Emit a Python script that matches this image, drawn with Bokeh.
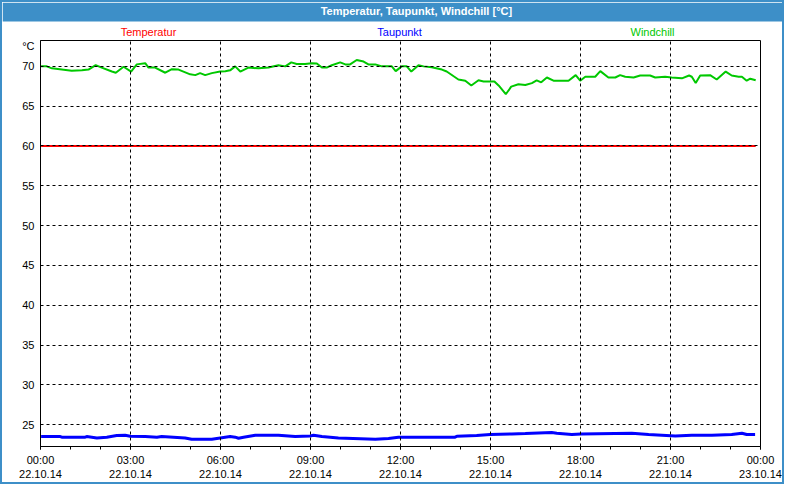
from bokeh.plotting import figure
from bokeh.layouts import column
from bokeh.models import FixedTicker, Range1d, Label, BoxAnnotation
from bokeh.embed import file_html
from bokeh.resources import INLINE

# ---- data (hours since 22.10.14 00:00) ----
tick_hours = [0, 3, 6, 9, 12, 15, 18, 21, 24]
tick_times = ["00:00", "03:00", "06:00", "09:00", "12:00", "15:00", "18:00", "21:00", "00:00"]
tick_dates = ["22.10.14", "22.10.14", "22.10.14", "22.10.14", "22.10.14",
              "22.10.14", "22.10.14", "22.10.14", "23.10.14"]
minor_hours = list(range(0, 25))
y_ticks = [25, 30, 35, 40, 45, 50, 55, 60, 65, 70]
unit_tick = 72.5
unit_text = "°C"

temp_t = [0.02, 6.0, 12.0, 18.0, 23.84]
temp_v = [60.0, 60.0, 60.0, 60.0, 60.0]

dew_t = [0.02, 0.66, 0.71, 1.49, 1.54, 1.88, 2.21, 2.54, 2.82, 2.99, 3.49, 3.88, 4.04, 4.82, 5.04,
         5.71, 5.99, 6.32, 6.49, 6.6, 6.77, 7.16, 7.93, 8.49, 8.99, 9.1, 9.38, 9.93, 11.16, 11.6,
         11.93, 13.82, 13.88, 14.54, 14.99, 15.71, 16.16, 17.04, 17.21, 17.71, 18.02, 19.71, 20.27,
         21.16, 21.71, 22.38, 23.04, 23.38, 23.54, 23.82]
dew_v = [23.5, 23.5, 23.42, 23.42, 23.5, 23.33, 23.42, 23.62, 23.67, 23.54, 23.5, 23.42, 23.5, 23.33, 23.17,
         23.17, 23.33, 23.5, 23.42, 23.29, 23.42, 23.67, 23.67, 23.5, 23.58, 23.67, 23.5, 23.33, 23.17, 23.25,
         23.42, 23.42, 23.54, 23.62, 23.75, 23.83, 23.87, 24.0, 23.92, 23.75, 23.83, 23.92, 23.75,
         23.58, 23.67, 23.67, 23.75, 23.92, 23.75, 23.75]

wc_t = [0.02, 0.21, 0.38, 0.71, 1.04, 1.38, 1.60, 1.84, 2.04, 2.38, 2.51, 2.77, 3.02, 3.21, 3.49,
        3.60, 3.82, 4.16, 4.38, 4.60, 4.99, 5.16, 5.32, 5.49, 5.71, 5.99, 6.16, 6.32, 6.49, 6.66,
        6.93, 7.27, 7.60, 7.93,
        8.16, 8.36, 8.54, 8.82, 9.04, 9.21, 9.38, 9.54, 9.71, 9.99, 10.16, 10.32, 10.54, 10.77,
        10.93, 11.16, 11.38, 11.71, 11.84, 12.04, 12.21, 12.36, 12.6, 12.77, 13.04, 13.38, 13.54,
        13.93, 14.16, 14.36, 14.6, 14.77, 14.93, 15.13, 15.27, 15.51, 15.69, 15.93,
        16.16, 16.38, 16.54, 16.69, 16.88, 17.1, 17.6, 17.84, 17.99, 18.16, 18.49, 18.66, 18.93,
        19.16, 19.32, 19.49, 19.77, 19.99, 20.32, 20.49, 20.82, 21.04, 21.38, 21.62, 21.71, 21.84,
        21.99, 22.32, 22.54, 22.84, 23.04, 23.27, 23.38, 23.54, 23.66, 23.84]
wc_v = [70.0, 70.0, 69.75, 69.6, 69.45, 69.5, 69.6, 70.15, 69.85, 69.35, 69.2, 69.95, 69.35, 70.25, 70.4,
        69.85, 69.85, 69.2, 69.65, 69.6, 69.0, 68.9, 69.15, 68.9, 69.15, 69.35, 69.4, 69.5, 70.0, 69.35,
        69.85, 69.75, 69.85, 70.15,
        70.0, 70.5, 70.3, 70.3, 70.4, 70.35, 69.85, 69.85, 70.15, 70.5, 70.25, 70.25, 70.8, 70.6,
        70.25, 70.25, 70.0, 70.0, 69.4, 70.0, 70.0, 69.35, 70.15, 70.0, 69.9, 69.6, 69.35,
        68.35, 68.2, 67.6, 68.25, 68.1, 68.1, 68.1, 67.6, 66.5, 67.45, 67.75,
        67.65, 67.9, 68.25, 68.0, 68.6, 68.2, 68.2, 68.9, 68.2, 68.7, 68.7, 69.4, 68.6,
        68.6, 68.9, 68.7, 68.6, 68.85, 68.85, 68.6, 68.7, 68.6, 68.5, 68.85, 68.7, 67.9,
        68.85, 68.9, 68.35, 69.35, 68.85, 68.7, 68.7, 68.2, 68.45, 68.25]

title_text = "Temperatur, Taupunkt, Windchill [°C]"
series_names = ["Temperatur", "Taupunkt", "Windchill"]
series_colors = ["#ff0000", "#0000ff", "#00c800"]
name_hours = [3.6, 11.97, 20.4]

FONT = "Liberation Sans"
BAR = "#3d8fc8"
IW = 780          # inner width (inside the 2px border)
TOP_H = 37
MAIN_H = 443
LEFT, RIGHT = 38, 22
PX_PER_H = 30.0
x_lo = -LEFT / PX_PER_H
x_hi = (IW - LEFT) / PX_PER_H

# ---------- header strip: title bar + series names ----------
hdr = figure(width=IW, height=TOP_H, output_backend="svg", toolbar_location=None, title=None,
             x_axis_type=None, y_axis_type=None,
             x_range=Range1d(x_lo, x_hi), y_range=Range1d(TOP_H, 0),
             min_border=0, min_border_left=0, min_border_right=0, min_border_top=0, min_border_bottom=0)
hdr.frame_align = False
hdr.outline_line_color = None
hdr.background_fill_color = "white"
hdr.border_fill_color = "white"
hdr.add_layout(BoxAnnotation(left=x_lo, right=x_hi, top=0, bottom=19,
                             fill_color=BAR, fill_alpha=1, line_color=None))
hdr.add_layout(Label(x=12.53, y=8.5, text=title_text, text_color="white",
                     text_font=FONT, text_font_size="11px", text_font_style="bold",
                     text_align="center", text_baseline="middle"))
for x, name, col in zip(name_hours, series_names, series_colors):
    hdr.add_layout(Label(x=x, y=29, text=name, text_color=col, text_font=FONT,
                         text_font_size="11px", text_align="center", text_baseline="middle"))

# ---------- main chart ----------
y_top = 73.25
frame_h = MAIN_H - 1 - 34
p = figure(width=IW, height=MAIN_H, output_backend="svg", toolbar_location=None, title=None,
           x_range=Range1d(0, 24), y_range=Range1d(y_top - frame_h / 8.0, y_top),
           min_border_left=LEFT, min_border_right=RIGHT, min_border_top=1, min_border_bottom=34)
p.frame_align = False
p.background_fill_color = "white"
p.border_fill_color = "white"
p.outline_line_color = "black"
p.outline_line_width = 1

p.xaxis.ticker = FixedTicker(ticks=tick_hours, minor_ticks=minor_hours)
p.xaxis.major_label_overrides = {h: f"{t}\n{d}" for h, t, d in zip(tick_hours, tick_times, tick_dates)}
p.yaxis.ticker = FixedTicker(ticks=y_ticks + [unit_tick])
p.yaxis.major_label_overrides = {unit_tick: unit_text}
for ax in (p.xaxis[0], p.yaxis[0]):
    ax.axis_line_color = "black"
    ax.major_label_text_font = FONT
    ax.major_label_text_font_size = "11px"
    ax.major_label_text_color = "black"
    ax.major_tick_line_color = "black"
    ax.minor_tick_line_color = "black"
p.xaxis.major_tick_in = 0
p.xaxis.major_tick_out = 3
p.xaxis.minor_tick_in = 0
p.xaxis.minor_tick_out = 3
p.xaxis.major_label_standoff = 4
p.yaxis.major_tick_in = 0
p.yaxis.major_tick_out = 0
p.yaxis.minor_tick_in = 0
p.yaxis.minor_tick_out = 0
p.yaxis.major_label_standoff = 6

p.xgrid[0].ticker = FixedTicker(ticks=tick_hours)
p.ygrid[0].ticker = FixedTicker(ticks=y_ticks)
for g in (p.xgrid[0], p.ygrid[0]):
    g.grid_line_color = "black"
    g.grid_line_dash = "3 3"
    g.grid_line_width = 1
    g.level = "overlay"

p.line(temp_t, temp_v, line_color=series_colors[0], line_width=2)
p.line(dew_t, dew_v, line_color=series_colors[1], line_width=3)
p.line(wc_t, wc_v, line_color=series_colors[2], line_width=2)

layout = column(hdr, p, spacing=0,
                styles={"border": f"2px solid {BAR}", "background-color": "white"})

open("out.html", "w").write(file_html(layout, INLINE))
